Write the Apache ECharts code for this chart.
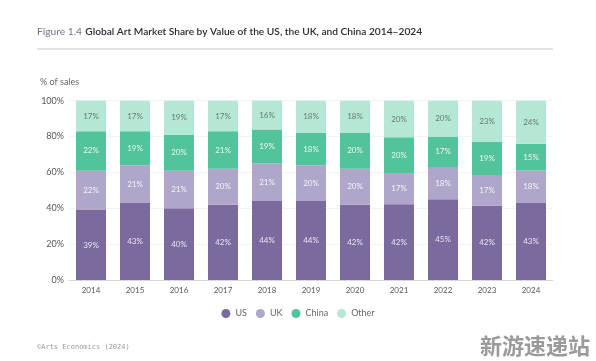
<!DOCTYPE html>
<html><head><meta charset="utf-8">
<script src="https://cdn.jsdelivr.net/npm/echarts@6/dist/echarts.min.js"></script>
<style>html,body{margin:0;padding:0;background:#fff}#c{width:596px;height:361px}</style>
</head><body><div id="c"></div>
<script>
const years = ['2014','2015','2016','2017','2018','2019','2020','2021','2022','2023','2024'];
const us    = [39,43,40,42,44,44,42,42.3,45,41.6,43];
const uk    = [22,21,21,20,21,20,20,17.3,18,16.6,18];
const china = [22,19,20,21,19,18,20,20.0,17,18.7,15];
const other = [17,17,19,17,16,18,18,20.4,20,23.1,24];
const yTicks = [0,20,40,60,80,100];

const colors = {US:'#7a6a9e', UK:'#b0a6c9', China:'#52c39b', Other:'#b4e8d4'};
const labelColors = {US:'#e8e4f2', UK:'#f4f2f8', China:'#e6f7f0', Other:'#6a7a74'};

function mk(name, data){
  return {
    name, type:'bar', stack:'s', data, barWidth:30,
    itemStyle:{color:colors[name]},
    label:{show:true, position:'inside', formatter:p=>Math.round(p.value)+'%', fontSize:8, color:labelColors[name], fontFamily:'Lato'},
    emphasis:{disabled:true}
  };
}

const chart = echarts.init(document.getElementById('c'), null, {renderer:'canvas'});
chart.setOption({
  animation:false,
  textStyle:{fontFamily:'Lato'},
  grid:{left:69, right:43, top:100.7, bottom:81, containLabel:false},
  xAxis:{type:'category', data:years,
    axisLine:{lineStyle:{color:'#d8d8dc'}}, axisTick:{show:false},
    axisLabel:{color:'#555', fontSize:8, margin:6}},
  yAxis:{type:'value', min:0, max:100, interval:20,
    axisLabel:{formatter:v=>yTicks.includes(v)?v+'%':'', color:'#555', fontSize:9, margin:5},
    splitLine:{lineStyle:{color:'#f3f3f5'}}, axisLine:{show:false}, axisTick:{show:false}},
  legend:{data:['US','UK','China','Other'], bottom:38, left:'center', icon:'circle', itemWidth:9, itemHeight:9, itemGap:9,
    textStyle:{color:'#666', fontSize:9}},
  series:[mk('US',us), mk('UK',uk), mk('China',china), mk('Other',other)],
  graphic:[
    {type:'text', left:37, top:26, style:{
      text:'{a|Figure 1.4} {b|Global Art Market Share by Value of the US, the UK, and China 2014–2024}',
      rich:{a:{fill:'#7c7a94', font:'500 10.2px Lato'}, b:{fill:'#2a2a33', font:'600 10.2px Lato'}}}},
    {type:'line', shape:{x1:37, y1:49, x2:553, y2:49}, style:{stroke:'#c8c8cc', lineWidth:1}},
    {type:'text', left:40, top:78, style:{text:'% of sales', fill:'#666', font:'9px Lato'}},
    {type:'text', left:37, top:344, style:{text:'©Arts Economics (2024)', fill:'#999', font:'7px "DejaVu Sans Mono"'}},
    {type:'text', right:6, top:335, style:{text:'新游速递站', fill:'#9a9a9a', font:'bold 22px "Noto Sans CJK SC"'}}
  ]
});
</script></body></html>
